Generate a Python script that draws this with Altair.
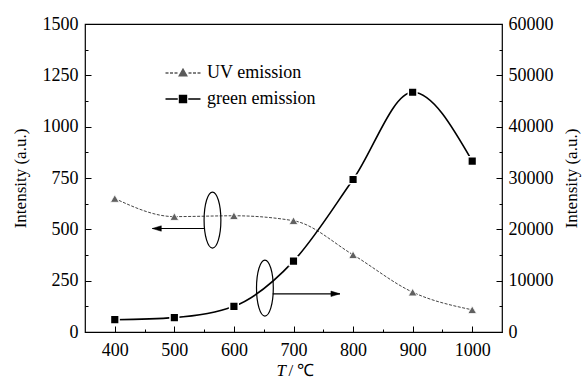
import altair as alt
import pandas as pd

# ---------------- data ----------------
temps = [400, 500, 600, 700, 800, 900, 1000]
uv_emission = [650, 562, 566, 542, 376, 194, 108]
green_emission = [2400, 2800, 5000, 13800, 29700, 46700, 33300]

series_names = ["UV emission", "green emission"]
series_colors = ["#5a5a5a", "black"]

x_ticks = [400, 500, 600, 700, 800, 900, 1000]
x_minor = [450, 550, 650, 750, 850, 950]
left_ticks = [0, 250, 500, 750, 1000, 1250, 1500]
left_minor = [125, 375, 625, 875, 1125, 1375]
right_ticks = [0, 10000, 20000, 30000, 40000, 50000, 60000]
right_minor = [5000, 15000, 25000, 35000, 45000, 55000]
RATIO = 40  # right axis units per left axis unit (60000 / 1500)

# annotation marks (ellipses around curves and arrows pointing at their axes)
ellipse_T = [564, 652]
ellipse_I = [545, 214]
arrow_T_start = [551, 665]
arrow_T_end = [463, 778]
arrow_I = [504, 186]

df = pd.DataFrame({"T": temps, "UV": uv_emission, "green": green_emission})
ann = pd.DataFrame({"eT": ellipse_T, "eI": ellipse_I, "aT0": arrow_T_start,
                    "aT1": arrow_T_end, "aI": arrow_I, "idx": [0, 1]})
leg_df = pd.DataFrame({"series": series_names})

FONT = "Liberation Serif"
XS = alt.Scale(domain=[350, 1050], nice=False, zero=False)
YS = alt.Scale(domain=[0, 1500], nice=False, zero=False)


def tick_axis(orient, values, size):
    return alt.Axis(orient=orient, values=values, tickSize=size, offset=-size,
                    labels=False, domain=False, grid=False, title=None,
                    tickColor="black", tickWidth=1)


x_main = alt.Axis(orient="bottom", values=x_ticks, ticks=False, domain=False, grid=False,
                  labelFont=FONT, labelFontSize=18, labelColor="black", labelPadding=9,
                  labelFlush=False, format="d",
                  title="T", titleFont=FONT, titleFontSize=17, titleFontStyle="italic",
                  titleFontWeight="normal", titleColor="black", titleAlign="left",
                  titleBaseline="middle", titleX=191, titleY=38.5)
x_major_ticks = alt.Axis(orient="bottom", values=x_ticks, tickSize=6, offset=-6,
                         labels=False, domain=False, grid=False, tickColor="black",
                         title="/ ℃", titleFont=FONT, titleFontSize=17,
                         titleFontWeight="normal", titleColor="black", titleAlign="left",
                         titleBaseline="middle", titleX=203, titleY=44.5)

y_left = alt.Axis(orient="left", values=left_ticks, ticks=False, domain=False, grid=False,
                  labelFont=FONT, labelFontSize=18, labelColor="black", labelPadding=7,
                  format="d", title="Intensity (a.u.)", titleFont=FONT, titleFontSize=17,
                  titleFontWeight="normal", titleColor="black", titlePadding=13)
y_right = alt.Axis(orient="right", values=[v / RATIO for v in right_ticks],
                   labelExpr=f"format(datum.value * {RATIO}, 'd')",
                   ticks=False, domain=False, grid=False,
                   labelFont=FONT, labelFontSize=18, labelColor="black", labelPadding=6,
                   title="Intensity (a.u.)", titleFont=FONT, titleFontSize=17,
                   titleFontWeight="normal", titleColor="black", titlePadding=10,
                   titleAngle=270, titleBaseline="top")

base = alt.Chart(df)

uv_line = base.mark_line(interpolate="monotone", color="#444", strokeWidth=1,
                         strokeDash=[3, 1.5]).encode(
    x=alt.X("T:Q", scale=XS, axis=x_main),
    y=alt.Y("UV:Q", scale=YS, axis=y_left),
)
uv_pts = base.mark_point(shape="triangle-up", filled=True, fill="#606060", stroke="white",
                         strokeWidth=0.8, size=75, opacity=1).encode(
    x=alt.X("T:Q", scale=XS, axis=x_major_ticks),
    y=alt.Y("UV:Q", scale=YS, axis=tick_axis("left", left_ticks, 6)),
)
green_line = base.transform_calculate(g=f"datum.green / {RATIO}").mark_line(
    interpolate="monotone", color="black", strokeWidth=1.6).encode(
    x=alt.X("T:Q", scale=XS, axis=tick_axis("bottom", x_minor, 3)),
    y=alt.Y("g:Q", scale=YS, axis=y_right),
)
green_pts = base.transform_calculate(g=f"datum.green / {RATIO}").mark_point(
    shape="square", filled=True, fill="black", stroke="white", strokeWidth=1.5,
    size=75, opacity=1).encode(
    x=alt.X("T:Q", scale=XS, axis=None),
    y=alt.Y("g:Q", scale=YS, axis=tick_axis("right", [v / RATIO for v in right_ticks], 6)),
)

k = 0.5523
rx = 0.3
ellipse_path = (f"M0,-1C{rx*k:.4f},-1,{rx},{-k},{rx},0C{rx},{k},{rx*k:.4f},1,0,1"
                f"C{-rx*k:.4f},1,{-rx},{k},{-rx},0C{-rx},{-k},{-rx*k:.4f},-1,0,-1Z")
ann_base = alt.Chart(ann)
ellipses = ann_base.mark_point(shape=ellipse_path, filled=False, stroke="black",
                               strokeWidth=1.2, size=3136, opacity=1).encode(
    x=alt.X("eT:Q", scale=XS, axis=None),
    y=alt.Y("eI:Q", scale=YS, axis=tick_axis("left", left_minor, 3)),
)
arrows = ann_base.mark_rule(color="black", strokeWidth=1.2).encode(
    x=alt.X("aT0:Q", scale=XS, axis=None),
    x2="aT1:Q",
    y=alt.Y("aI:Q", scale=YS, axis=tick_axis("right", [v / RATIO for v in right_minor], 3)),
)
head_left = ann_base.transform_filter("datum.idx == 0").mark_point(
    shape="M0,0L2,-0.6L2,0.6Z", filled=True, fill="black", stroke="black",
    strokeWidth=0.5, size=81, opacity=1).encode(
    x=alt.X("aT1:Q", scale=XS, axis=None),
    y=alt.Y("aI:Q", scale=YS, axis=None),
)
head_right = ann_base.transform_filter("datum.idx == 1").mark_point(
    shape="M0,0L-2,-0.6L-2,0.6Z", filled=True, fill="black", stroke="black",
    strokeWidth=0.5, size=81, opacity=1).encode(
    x=alt.X("aT1:Q", scale=XS, axis=None),
    y=alt.Y("aI:Q", scale=YS, axis=None),
)

# legend symbols: line + marker, drawn with symbolSize 100 (unit = 5 px)
uv_sym = ("M-3.5,0H-2.9M-2.6,0H-2M-1.7,0H-1.1"
          "M1.1,0H1.7M2,0H2.6M2.9,0H3.5"
          "M-0.75,0.55L0,-0.75L0.75,0.55Z")
green_sym = "M-3.5,0H-1.05M1.05,0H3.5M-0.7,-0.7H0.7V0.7H-0.7Z"

leg = alt.Legend(title=None, orient="none", legendX=89, legendY=40,
                 symbolSize=100, symbolStrokeWidth=1.4, padding=0, rowPadding=8,
                 labelOffset=15, labelFont=FONT, labelFontSize=18, labelColor="black")

legend_layer = alt.Chart(leg_df).transform_filter("false").mark_point(
    filled=True, size=100, opacity=1).encode(
    x=alt.value(0), y=alt.value(0),
    fill=alt.Fill("series:N", scale=alt.Scale(domain=series_names, range=series_colors),
                  legend=leg),
    stroke=alt.Stroke("series:N", scale=alt.Scale(domain=series_names, range=series_colors),
                      legend=leg),
    shape=alt.Shape("series:N",
                    scale=alt.Scale(domain=series_names, range=[uv_sym, green_sym]),
                    legend=leg),
)

chart = alt.layer(
    uv_line, uv_pts, green_line, green_pts, ellipses, arrows, head_left, head_right,
    legend_layer,
).resolve_axis(x="independent", y="independent").properties(
    width=417, height=308,
    padding={"left": 85, "top": 24, "right": 81, "bottom": 47},
    autosize=alt.AutoSizeParams(type="none"),
).configure_view(stroke="black", strokeWidth=1.2).configure_axis(grid=False)

chart.save("out.html", embed_options={"renderer": "svg", "actions": False})
